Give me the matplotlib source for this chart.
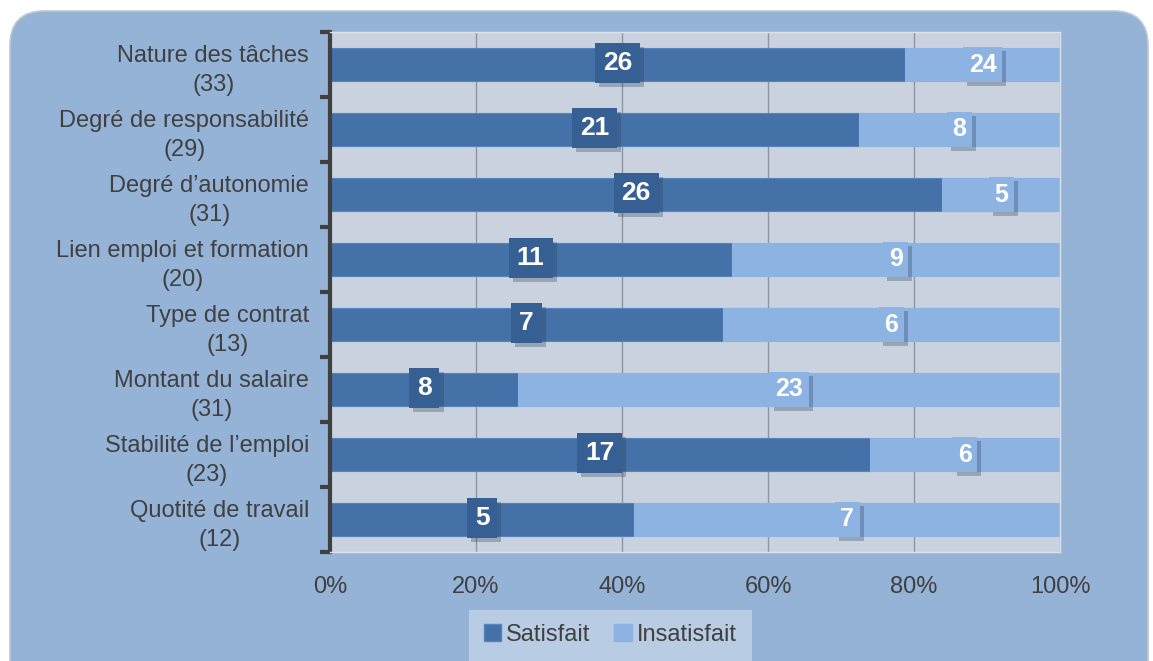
import numpy as np
import matplotlib
matplotlib.use("Agg")
import matplotlib.pyplot as plt
from matplotlib.patches import FancyBboxPatch, Rectangle
import matplotlib.patheffects as pe

plt.rcParams['font.family'] = ['Liberation Sans', 'DejaVu Sans']

categories = ["Nature des tâches", "Degré de responsabilité", "Degré d’autonomie",
              "Lien emploi et formation", "Type de contrat", "Montant du salaire",
              "Stabilité de l’emploi", "Quotité de travail"]
totals = [33, 29, 31, 20, 13, 31, 23, 12]
satisfait = [26, 21, 26, 11, 7, 8, 17, 5]
insatisfait_labels = [24, 8, 5, 9, 6, 23, 6, 7]

c_sat = "#4472A8"
c_ins = "#8DB3E2"
c_sat_box = "#365F93"
txt_col = "#404040"

W, H = 1153, 661
fig = plt.figure(figsize=(W / 100, H / 100), dpi=100)
fig.patch.set_facecolor("white")

# rounded background panel
bg = FancyBboxPatch((10 / W, -40 / H), 1138 / W, 690 / H,
                    boxstyle="round,pad=0,rounding_size=0.03",
                    transform=fig.transFigure, facecolor="#95B3D7",
                    edgecolor="#BFC7D1", linewidth=1.2, zorder=-10,
                    mutation_aspect=W / H)
fig.patches.append(bg)

ax = fig.add_axes([330 / W, 1 - 552 / H, 730 / W, 520 / H])
ax.set_zorder(2)
ax.set_facecolor("#C9D2DE")

n = len(categories)
y = np.arange(n)
sat_pct = np.array(satisfait) / np.array(totals) * 100
ins_pct = 100 - sat_pct

ax.barh(y, sat_pct, height=0.52, color=c_sat, edgecolor="#5583BC", linewidth=0.8, zorder=2)
ax.barh(y, ins_pct, left=sat_pct, height=0.52, color=c_ins, edgecolor=c_ins, linewidth=0.8, zorder=2)

shadow = [pe.withSimplePatchShadow(offset=(3, -3), shadow_rgbFace="#2a3b55", alpha=0.3)]
for i in range(n):
    t1 = ax.text(sat_pct[i] / 2, y[i] - 0.02, str(satisfait[i]), ha="center", va="center",
                 color="white", fontsize=19, fontweight="bold", zorder=5,
                 bbox=dict(boxstyle="square,pad=0.3", facecolor=c_sat_box, edgecolor="none"))
    t1.get_bbox_patch().set_path_effects(shadow)
    t2 = ax.text(sat_pct[i] + ins_pct[i] / 2, y[i], str(insatisfait_labels[i]), ha="center",
                 va="center", color="white", fontsize=18, fontweight="bold", zorder=5,
                 bbox=dict(boxstyle="square,pad=0.22", facecolor=c_ins, edgecolor="none"))
    t2.get_bbox_patch().set_path_effects(shadow)

ax.set_xlim(0, 100)
ax.set_ylim(n - 0.5, -0.5)
ax.set_xticks([0, 20, 40, 60, 80, 100])
ax.set_xticklabels(["0%", "20%", "40%", "60%", "80%", "100%"], fontsize=17, color=txt_col)
ax.tick_params(axis="x", length=0, pad=17)
ax.grid(axis="x", color="#8E959E", linewidth=1, zorder=1)
ax.set_axisbelow(True)

ax.set_yticks(np.arange(n + 1) - 0.5)
ax.set_yticklabels([])
ax.tick_params(axis="y", which="major", length=7, width=3, color=txt_col, direction="out")
ax.set_yticks(y, minor=True)
ax.set_yticklabels([f"{c}\n({t})" for c, t in zip(categories, totals)], minor=True,
                   fontsize=17, color=txt_col, multialignment="center", linespacing=1.4)
ax.tick_params(axis="y", which="minor", length=0, pad=15)

for s in ["top", "right", "bottom"]:
    ax.spines[s].set_color("#DCE2EA")
    ax.spines[s].set_linewidth(1)
ax.spines["left"].set_color(txt_col)
ax.spines["left"].set_linewidth(3)

# legend panel
fig.patches.append(Rectangle((469 / W, 0), 283 / W, 51 / H, transform=fig.transFigure,
                             facecolor="#B8CCE4", edgecolor="none", zorder=-5))
handles = [Rectangle((0, 0), 1, 1, facecolor=c_sat, edgecolor="#5583BC"),
           Rectangle((0, 0), 1, 1, facecolor=c_ins, edgecolor=c_ins)]
fig.legend(handles, ["Satisfait", "Insatisfait"], loc="center", ncol=2,
           bbox_to_anchor=(610 / W, 1 - 635 / H), frameon=False, fontsize=17,
           handlelength=0.75, handleheight=0.75, handletextpad=0.2, columnspacing=1.0,
           labelcolor=txt_col)

fig.savefig("out.png", dpi=100, facecolor=fig.get_facecolor())
